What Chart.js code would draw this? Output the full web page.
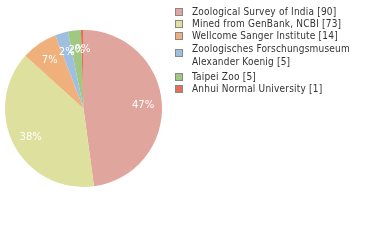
<!DOCTYPE html>
<html>
<head>
<meta charset="utf-8">
<script src="https://cdn.jsdelivr.net/npm/chart.js@4/dist/chart.umd.min.js"></script>
<style>
  html, body { margin: 0; padding: 0; background: #fff; }
  #wrap { position: relative; width: 380px; height: 240px; overflow: hidden; }
  #pie { position: absolute; left: 0; top: 0; }
  #legend { position: absolute; left: 175px; top: 0; font: 10px "DejaVu Sans Condensed", "DejaVu Sans", sans-serif; font-stretch: condensed; color: #333; }
  .item { position: absolute; left: 0; white-space: nowrap; }
  .box { position: absolute; left: 0; width: 6px; height: 6px; border: 1px solid #888; }
  .txt { position: absolute; left: 17px; line-height: 13px; letter-spacing: 0.2px; }
</style>
</head>
<body>
<div id="wrap">
  <canvas id="pie" width="380" height="240"></canvas>
  <div id="legend"></div>
</div>
<script>
var labels = [
    "Zoological Survey of India",
    "Mined from GenBank, NCBI",
    "Wellcome Sanger Institute",
    ["Zoologisches Forschungsmuseum", "Alexander Koenig"],
    "Taipei Zoo",
    "Anhui Normal University"
];
var counts = [90, 73, 14, 5, 5, 1];
var colors = ["#e0a59d", "#dde19d", "#f0b07b", "#9fbfe0", "#a0c883", "#e07058"];

var total = counts.reduce(function (a, b) { return a + b; }, 0);

// legend rows, top of each item's text block
var rowTops = [5, 17, 29, 42, 70, 82];

function buildLegend() {
    var el = document.getElementById("legend");
    labels.forEach(function (lab, i) {
        var lines = Array.isArray(lab) ? lab.slice() : [lab];
        lines[lines.length - 1] += " [" + counts[i] + "]";
        var item = document.createElement("div");
        item.className = "item";
        item.style.top = rowTops[i] + "px";
        var box = document.createElement("div");
        box.className = "box";
        box.style.background = colors[i];
        box.style.top = (lines.length > 1 ? 7 : 3) + "px";
        var txt = document.createElement("div");
        txt.className = "txt";
        txt.innerHTML = lines.map(function (l) { return l.replace(/&/g, "&amp;").replace(/</g, "&lt;"); }).join("<br>");
        item.appendChild(box);
        item.appendChild(txt);
        el.appendChild(item);
    });
}

var sliceLabels = {
    id: "sliceLabels",
    afterDatasetsDraw: function (chart) {
        var ctx = chart.ctx;
        var meta = chart.getDatasetMeta(0);
        ctx.save();
        ctx.fillStyle = "#fff";
        ctx.font = "10px 'DejaVu Sans', sans-serif";
        ctx.textAlign = "center";
        ctx.textBaseline = "middle";
        meta.data.forEach(function (arc, i) {
            var p = arc.getProps(["x", "y", "startAngle", "endAngle", "outerRadius"], true);
            var mid = (p.startAngle + p.endAngle) / 2;
            var d = p.outerRadius * 0.76;
            var pct = Math.floor(counts[i] / total * 100) + "%";
            ctx.fillText(pct, p.x + Math.cos(mid) * d, p.y + Math.sin(mid) * d + 1);
        });
        ctx.restore();
    }
};

buildLegend();

new Chart(document.getElementById("pie"), {
    type: "pie",
    data: {
        labels: labels,
        datasets: [{ data: counts, backgroundColor: colors, borderWidth: 0 }]
    },
    options: {
        responsive: false,
        animation: false,
        layout: { padding: { left: 5, top: 30, right: 218, bottom: 53 } },
        plugins: { legend: { display: false }, tooltip: { enabled: false } }
    },
    plugins: [sliceLabels]
});
</script>
</body>
</html>
